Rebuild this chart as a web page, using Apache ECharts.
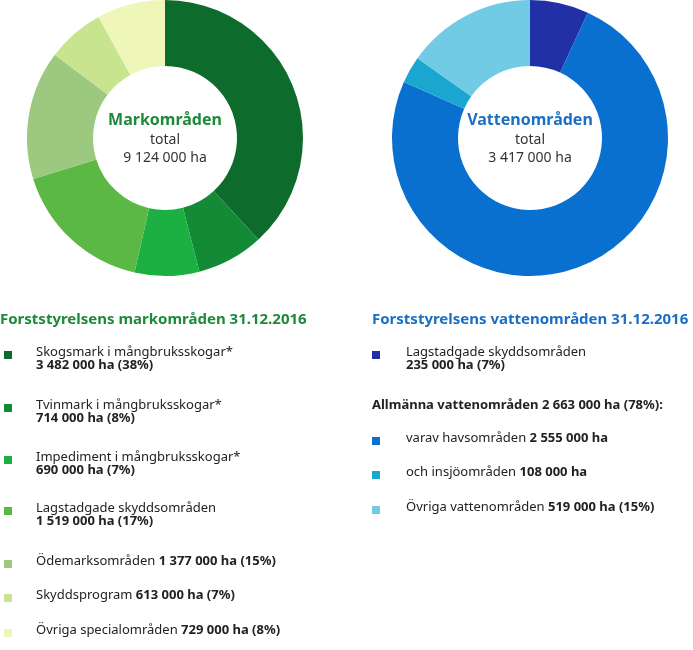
<!DOCTYPE html>
<html>
<head>
<meta charset="utf-8">
<script src="https://cdn.jsdelivr.net/npm/echarts@6/dist/echarts.min.js"></script>
<style>html,body{margin:0;padding:0;background:#fff}#c{width:693px;height:650px}</style>
</head>
<body>
<div id="c"></div>
<script>
const landNames = ['Skogsmark i mångbruksskogar*', 'Tvinmark i mångbruksskogar*', 'Impediment i mångbruksskogar*', 'Lagstadgade skyddsområden', 'Ödemarksområden', 'Skyddsprogram', 'Övriga specialområden'];
const landValues = [3482000, 714000, 690000, 1519000, 1377000, 613000, 729000];
const landPct = [38, 8, 7, 17, 15, 7, 8];
const landColors = ['#0d6b2c', '#138a36', '#1cb042', '#5bb845', '#9cc97f', '#c8e48e', '#eef6b8'];

const waterNames = ['Lagstadgade skyddsområden', 'varav havsområden', 'och insjöområden', 'Övriga vattenområden'];
const waterValues = [235000, 2555000, 108000, 519000];
const waterColors = ['#2230a8', '#0a70d0', '#19a7d0', '#72cbe5'];

const fmt = v => String(v).replace(/\B(?=(\d{3})+(?!\d))/g, ' ');
const FONT = 'Noto Sans';
const chart = echarts.init(document.getElementById('c'));

const graphic = [];
function txt(x, y, rich, text) {
  graphic.push({ type: 'text', left: x, top: y, style: { text: text, font: '13px ' + FONT, fill: '#222', rich: rich } });
}
const rich = { b: { fontWeight: 'bold', fontSize: 13, fontFamily: FONT, fill: '#222' }, n: { fontSize: 13, fontFamily: FONT, fill: '#222' } };
function swatch(x, y, c) {
  graphic.push({ type: 'rect', shape: { x: x, y: y, width: 8, height: 8 }, style: { fill: c } });
}

// headings
graphic.push({ type: 'text', left: 0, top: 312, style: { text: 'Forststyrelsens markområden 31.12.2016', font: 'bold 15px ' + FONT, fill: '#1d8a3a' } });
graphic.push({ type: 'text', left: 372, top: 312, style: { text: 'Forststyrelsens vattenområden 31.12.2016', font: 'bold 15px ' + FONT, fill: '#1a6fc4' } });

// land legend
const landY = [346, 399, 451, 502, 555, 589, 624];
landNames.forEach((n, i) => {
  swatch(4, landY[i] + 5, landColors[i]);
  const val = '{b|' + fmt(landValues[i]) + ' ha (' + landPct[i] + '%)}';
  if (i < 4) txt(36, landY[i], rich, '{n|' + n + '}\n' + val);
  else txt(36, landY[i], rich, '{n|' + n + ' }' + val);
});

// water legend
swatch(372, 351, waterColors[0]);
txt(406, 346, rich, '{n|' + waterNames[0] + '}\n{b|' + fmt(waterValues[0]) + ' ha (7%)}');
txt(372, 399, rich, '{b|Allmänna vattenområden 2 663 000 ha (78%):}');
swatch(372, 437, waterColors[1]);
txt(406, 432, rich, '{n|' + waterNames[1] + ' }{b|' + fmt(waterValues[1]) + ' ha}');
swatch(372, 471, waterColors[2]);
txt(406, 466, rich, '{n|' + waterNames[2] + ' }{b|' + fmt(waterValues[2]) + ' ha}');
swatch(372, 506, waterColors[3]);
txt(406, 501, rich, '{n|' + waterNames[3] + ' }{b|' + fmt(waterValues[3]) + ' ha (15%)}');

function donut(center, names, values, colors, title, titleColor, total) {
  return {
    type: 'pie',
    center: center,
    radius: [72, 138],
    startAngle: 90,
    clockwise: true,
    silent: true,
    label: {
      show: true, position: 'center',
      formatter: () => '{t|' + title + '}\n{n|total}\n{n|' + total + ' ha}',
      rich: {
        t: { fontFamily: FONT, fontWeight: 'bold', fontSize: 16, color: titleColor, lineHeight: 22 },
        n: { fontFamily: FONT, fontSize: 14, color: '#333', lineHeight: 18 }
      }
    },
    labelLine: { show: false },
    data: values.map((v, i) => ({ name: names[i], value: v, itemStyle: { color: colors[i] } }))
  };
}

chart.setOption({
  animation: false,
  backgroundColor: '#fff',
  graphic: graphic,
  series: [
    donut([165, 138], landNames, landValues, landColors, 'Markområden', '#1d8a3a', '9 124 000'),
    donut([530, 138], waterNames, waterValues, waterColors, 'Vattenområden', '#1a6fc4', '3 417 000')
  ]
});
</script>
</body>
</html>
